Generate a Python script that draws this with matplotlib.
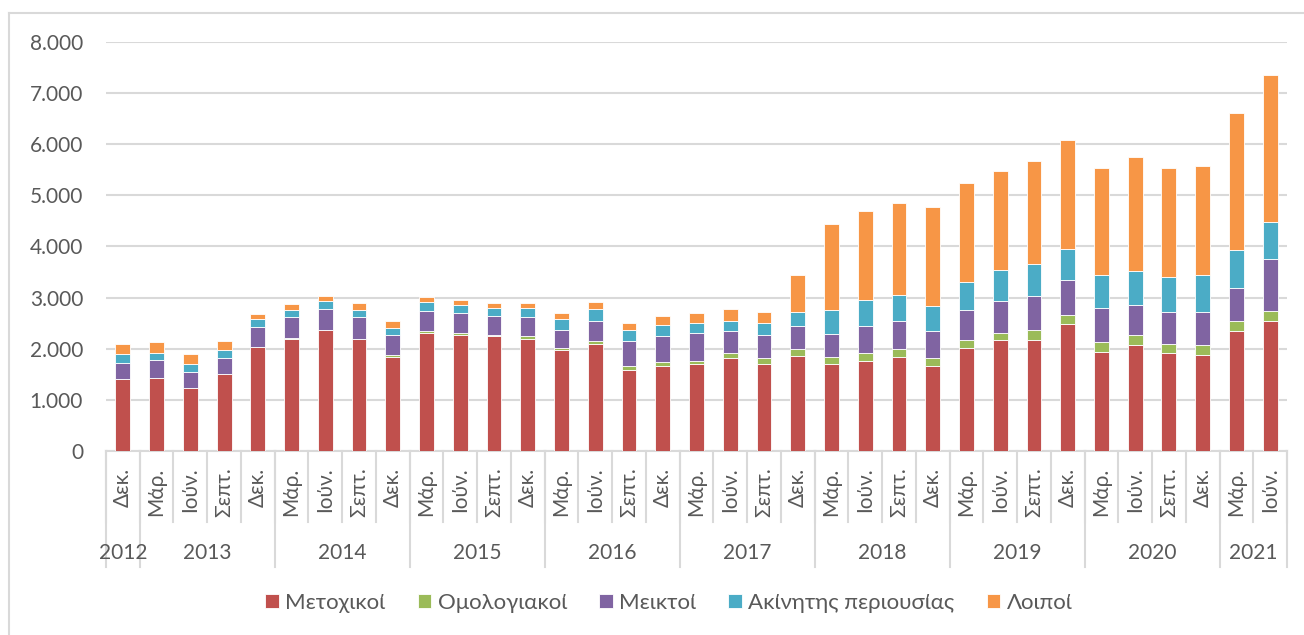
import numpy as np
import matplotlib
matplotlib.use("Agg")
import matplotlib.pyplot as plt
from matplotlib.ticker import FuncFormatter
from matplotlib.lines import Line2D

plt.rcParams['font.family'] = ['Lato', 'Noto Sans', 'DejaVu Sans']

# categories (quarters) and year groups
months = ['Δεκ.',
          'Μάρ.', 'Ιούν.', 'Σεπτ.', 'Δεκ.',
          'Μάρ.', 'Ιούν.', 'Σεπτ.', 'Δεκ.',
          'Μάρ.', 'Ιούν.', 'Σεπτ.', 'Δεκ.',
          'Μάρ.', 'Ιούν.', 'Σεπτ.', 'Δεκ.',
          'Μάρ.', 'Ιούν.', 'Σεπτ.', 'Δεκ.',
          'Μάρ.', 'Ιούν.', 'Σεπτ.', 'Δεκ.',
          'Μάρ.', 'Ιούν.', 'Σεπτ.', 'Δεκ.',
          'Μάρ.', 'Ιούν.', 'Σεπτ.', 'Δεκ.',
          'Μάρ.', 'Ιούν.']
years = ['2012', '2013', '2014', '2015', '2016', '2017', '2018', '2019', '2020', '2021']
year_sizes = [1, 4, 4, 4, 4, 4, 4, 4, 4, 2]

series_names = ['Μετοχικοί', 'Ομολογιακοί', 'Μεικτοί', 'Ακίνητης περιουσίας', 'Λοιποί']
colors = ['#C0504D', '#9BBB59', '#8064A2', '#4BACC6', '#F79646']

metoxikoi = [1400, 1430, 1229, 1500, 2039, 2190, 2366, 2190, 1843, 2301,
             2269, 2243, 2197, 1967, 2098, 1593, 1672, 1698, 1823, 1698,
             1849, 1698, 1767, 1842, 1672, 2018, 2162, 2162, 2489, 1940,
             2064, 1914, 1868, 2338, 2534]
omologiakoi = [5, 5, 5, 5, 5, 26, 10, 10, 33, 39,
               33, 26, 46, 53, 46, 79, 72, 72, 98, 125,
               151, 148, 150, 150, 144, 150, 150, 202, 169, 196,
               196, 176, 196, 196, 203]
meiktoi = [320, 343, 315, 319, 374, 398, 408, 414, 392, 399,
           393, 380, 380, 354, 400, 479, 505, 532, 427, 452,
           446, 450, 520, 542, 522, 595, 621, 673, 680, 653,
           601, 621, 647, 653, 1019]
akinitis = [170, 144, 150, 150, 170, 151, 151, 151, 144, 176,
            151, 151, 177, 203, 230, 223, 223, 196, 196, 223,
            275, 470, 525, 523, 497, 549, 601, 621, 614, 647,
            653, 699, 725, 745, 725]
loipoi = [195, 215, 190, 170, 98, 104, 104, 124, 124, 98,
          98, 92, 92, 118, 144, 124, 171, 197, 230, 223,
          722, 1665, 1740, 1789, 1940, 1933, 1933, 2011, 2136, 2109,
          2227, 2135, 2136, 2678, 2880]

series = [metoxikoi, omologiakoi, meiktoi, akinitis, loipoi]

W, H = 1304, 635
txt = '#595959'
grid = '#D9D9D9'

fig = plt.figure(figsize=(W / 100, H / 100), dpi=100)
ax = fig.add_axes([106 / W, 1 - 451 / H, (1287 - 106) / W, (451 - 42) / H])

x = np.arange(len(months))
bottom = np.zeros(len(months))
for name, vals, col in zip(series_names, series, colors):
    ax.bar(x, vals, 0.44, bottom=bottom, color=col, edgecolor='white',
           linewidth=0.6, label=name, zorder=3)
    bottom += np.array(vals)

ax.set_xlim(-0.5, len(months) - 0.5)
ax.set_ylim(0, 8000)
ax.set_yticks(range(0, 8001, 1000))
ax.yaxis.set_major_formatter(FuncFormatter(lambda v, p: f'{v:,.0f}'.replace(',', '.')))
ax.grid(axis='y', color=grid, linewidth=1.5, zorder=0)
ax.set_axisbelow(True)
for s in ['left', 'top', 'right']:
    ax.spines[s].set_visible(False)
ax.spines['bottom'].set_color(grid)
ax.spines['bottom'].set_linewidth(1.5)
ax.tick_params(axis='y', length=0, pad=16.5, labelsize=15, labelcolor=txt)

ax.set_xticks(x, months, rotation=90)
ax.tick_params(axis='x', length=0, pad=12, labelsize=15, labelcolor=txt)

# category separators and year separators below the axis
tr = ax.get_xaxis_transform()
for b in range(len(months) + 1):
    ax.plot([b - 0.5, b - 0.5], [0, -0.1736], transform=tr, color=grid,
            lw=1.5, clip_on=False)
edges = np.concatenate([[0], np.cumsum(year_sizes)])
for e in edges:
    ax.plot([e - 0.5, e - 0.5], [0, -0.2836], transform=tr, color=grid,
            lw=1.5, clip_on=False)
for yr, a, b in zip(years, edges[:-1], edges[1:]):
    ax.text((a + b - 1) / 2, -0.249, yr, transform=tr, ha='center', va='center',
            fontsize=15, color=txt)

leg = fig.legend(loc='center', bbox_to_anchor=(669 / W, 1 - 603 / H), ncol=5,
                 frameon=False, handlelength=0.6, handleheight=0.6,
                 handletextpad=0.3, columnspacing=1.45, fontsize=16)
for t in leg.get_texts():
    t.set_color(txt)

# chart frame: only the top and left edges are inside the picture
fig.add_artist(Line2D([9 / W, 9 / W], [0, 1 - 13 / H], transform=fig.transFigure,
                      color=grid, lw=1.5))
fig.add_artist(Line2D([9 / W, 1], [1 - 13 / H, 1 - 13 / H], transform=fig.transFigure,
                      color=grid, lw=1.5))

fig.savefig('out.png', dpi=100)
